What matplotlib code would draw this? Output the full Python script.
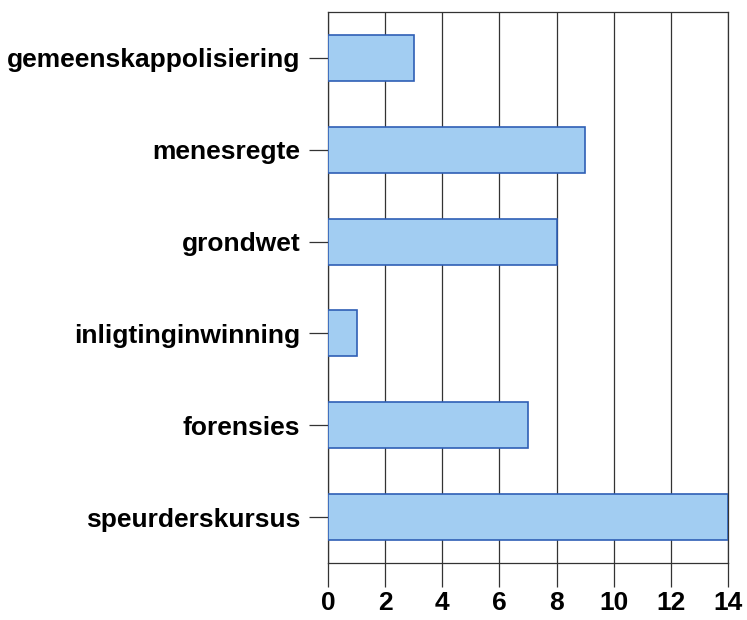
import matplotlib
matplotlib.use("Agg")
import matplotlib.pyplot as plt

categories = ["speurderskursus", "forensies", "inligtinginwinning", "grondwet", "menesregte", "gemeenskappolisiering"]
values = [14, 7, 1, 8, 9, 3]
xticks = [0, 2, 4, 6, 8, 10, 12, 14]

plt.rcParams['font.family'] = ['Liberation Sans', 'DejaVu Sans']

fig = plt.figure(figsize=(7.47, 6.2), dpi=100)
ax = fig.add_axes([0.439, 0.092, 0.5357, 0.8886])

ax.barh(range(len(categories)), values, height=0.5, color='#a2cdf2',
        edgecolor='#2f5fb5', linewidth=1.2, zorder=3)
ax.set_xlim(0, 14)
ax.set_ylim(-0.5, len(categories) - 0.5)
ax.set_xticks(xticks)
ax.set_xticklabels([str(t) for t in xticks], fontsize=19, fontweight='bold')
ax.set_yticks(range(len(categories)))
ax.set_yticklabels(categories, fontsize=19, fontweight='bold')
ax.grid(axis='x', color='#333333', linewidth=0.9, zorder=0)
ax.tick_params(axis='x', length=17, width=0.9, pad=3, color='#333333')
ax.tick_params(axis='y', length=14, width=0.9, pad=6, color='#333333')
for s in ax.spines.values():
    s.set_color('#333333')
    s.set_linewidth(0.9)

fig.savefig("out.png", dpi=100)
